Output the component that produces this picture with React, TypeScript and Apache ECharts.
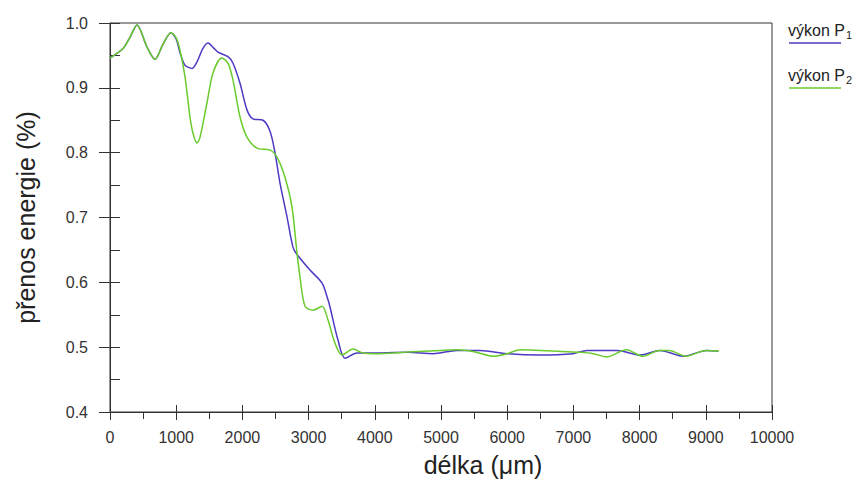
import React, { useEffect, useRef } from "react";
import * as echarts from "echarts";

// x (µm), y (energy transfer)
const p1Data: [number, number][] = [
  [0, 0.946], [200, 0.961], [302, 0.978], [408, 0.997], [559, 0.963], [680, 0.944], [800, 0.967], [920, 0.985],
  [1000, 0.975], [1057, 0.954], [1130, 0.935], [1178, 0.932], [1239, 0.93], [1314, 0.94], [1400, 0.96], [1480, 0.969],
  [1560, 0.962], [1631, 0.955], [1782, 0.948], [1858, 0.938], [1964, 0.907], [2069, 0.866], [2160, 0.852], [2311, 0.85],
  [2417, 0.833], [2492, 0.8], [2568, 0.753], [2674, 0.701], [2764, 0.654], [2825, 0.643], [3021, 0.619], [3202, 0.599],
  [3293, 0.573], [3323, 0.562], [3444, 0.511], [3550, 0.483], [3731, 0.491], [3882, 0.491], [4500, 0.492], [4879, 0.49],
  [5242, 0.495], [5589, 0.495], [5997, 0.49], [6495, 0.488], [6994, 0.49], [7205, 0.495], [7659, 0.495], [8006, 0.488],
  [8308, 0.495], [8656, 0.486], [9018, 0.495], [9184, 0.494],
];

const p2Data: [number, number][] = [
  [0, 0.946], [200, 0.961], [302, 0.978], [408, 0.997], [559, 0.963], [680, 0.944], [800, 0.967], [920, 0.985],
  [1000, 0.977], [1057, 0.958], [1133, 0.917], [1208, 0.855], [1254, 0.83], [1314, 0.815], [1360, 0.824], [1465, 0.877],
  [1556, 0.923], [1690, 0.946], [1782, 0.938], [1858, 0.912], [1964, 0.855], [2069, 0.824], [2220, 0.807], [2420, 0.804],
  [2523, 0.793], [2643, 0.762], [2749, 0.716], [2825, 0.645], [2870, 0.608], [2946, 0.563], [3066, 0.557], [3202, 0.563],
  [3293, 0.542], [3399, 0.506], [3505, 0.488], [3671, 0.497], [3822, 0.491], [4000, 0.49], [4500, 0.4925], [5000, 0.495],
  [5250, 0.496], [5500, 0.493], [5800, 0.486], [6000, 0.49], [6200, 0.496], [6500, 0.495], [6700, 0.494], [7100, 0.492],
  [7300, 0.49], [7500, 0.485], [7800, 0.496], [8050, 0.486], [8300, 0.495], [8450, 0.495], [8700, 0.486], [9000, 0.495],
  [9200, 0.494],
];

const seriesNames = ["výkon P1", "výkon P2"];
const legendBase = "výkon P";
const legendSubs = ["1", "2"];
const xTitle = "délka (μm)";
const yTitle = "přenos energie (%)";

const BLUE = "#4b3bc4";
const GREEN = "#6acb2c";
const FONT = "'Liberation Sans', Arial, sans-serif";

export default function App() {
  const ref = useRef<HTMLDivElement>(null);
  useEffect(() => {
    if (!ref.current) return;
    const chart = echarts.init(ref.current, undefined, { renderer: "svg" });
    const colors = [BLUE, GREEN];
    const legendGraphics: any[] = [];
    legendSubs.forEach((s, i) => {
      const top = 22 + i * 45;
      legendGraphics.push({
        type: "text",
        x: 788,
        y: top,
        style: { text: legendBase, fontSize: 16, fontFamily: FONT, fill: "#222" },
      });
      legendGraphics.push({
        type: "text",
        x: 846,
        y: top + 7,
        style: { text: s, fontSize: 11, fontFamily: FONT, fill: "#222" },
      });
      legendGraphics.push({
        type: "line",
        shape: { x1: 789, y1: top + 21, x2: 841, y2: top + 21 },
        style: { stroke: colors[i], lineWidth: 1.5 },
      });
    });

    chart.setOption({
      animation: false,
      backgroundColor: "#fff",
      grid: { left: 110, top: 23, right: 87, bottom: 71, show: true, borderColor: "#333", borderWidth: 1 },
      xAxis: [
        {
          type: "value",
          min: 0,
          max: 10000,
          interval: 1000,
          axisLine: { lineStyle: { color: "#333", width: 1 } },
          axisTick: { length: 8, lineStyle: { color: "#333" } },
          minorTick: { show: true, splitNumber: 2, length: 7, lineStyle: { color: "#333" } },
          axisLabel: { margin: 17, fontSize: 16, color: "#333", fontFamily: FONT, formatter: (v: number) => String(v) },
          splitLine: { show: false },
          name: xTitle,
          nameLocation: "middle",
          nameGap: 40,
          nameTextStyle: { fontSize: 25, color: "#222", fontFamily: FONT, padding: [0, 0, 0, 84] },
        },
        {
          type: "value",
          min: 0,
          max: 10000,
          interval: 1000,
          position: "bottom",
          axisLine: { show: false },
          axisTick: { show: true, inside: true, length: 7, lineStyle: { color: "#333" } },
          axisLabel: { show: false },
          splitLine: { show: false },
        },
      ],
      yAxis: [
        {
          type: "value",
          min: 0.4,
          max: 1.0,
          interval: 0.1,
          axisLine: { show: true, lineStyle: { color: "#333", width: 1 } },
          axisTick: { show: true, length: 11, lineStyle: { color: "#333" } },
          axisLabel: { margin: 22, fontSize: 16, color: "#333", fontFamily: FONT, formatter: (v: number) => v.toFixed(1) },
          splitLine: { show: false },
          name: yTitle,
          nameLocation: "middle",
          nameGap: 72,
          nameTextStyle: { fontSize: 25, color: "#222", fontFamily: FONT },
        },
        {
          type: "value",
          min: 0.4,
          max: 1.0,
          interval: 0.05,
          position: "left",
          axisLine: { show: false },
          axisTick: { show: true, inside: true, length: 10, lineStyle: { color: "#333" } },
          axisLabel: { show: false },
          splitLine: { show: false },
        },
      ],
      series: [
        {
          name: seriesNames[0],
          type: "line",
          data: p1Data,
          smooth: 0.3,
          showSymbol: false,
          lineStyle: { color: BLUE, width: 1.5 },
          itemStyle: { color: BLUE },
        },
        {
          name: seriesNames[1],
          type: "line",
          data: p2Data,
          smooth: 0.3,
          showSymbol: false,
          lineStyle: { color: GREEN, width: 1.5 },
          itemStyle: { color: GREEN },
        },
      ],
      graphic: legendGraphics,
    });
    return () => chart.dispose();
  }, []);
  return <div ref={ref} style={{ position: "absolute", left: 0, top: 0, width: 859, height: 483 }} />;
}
